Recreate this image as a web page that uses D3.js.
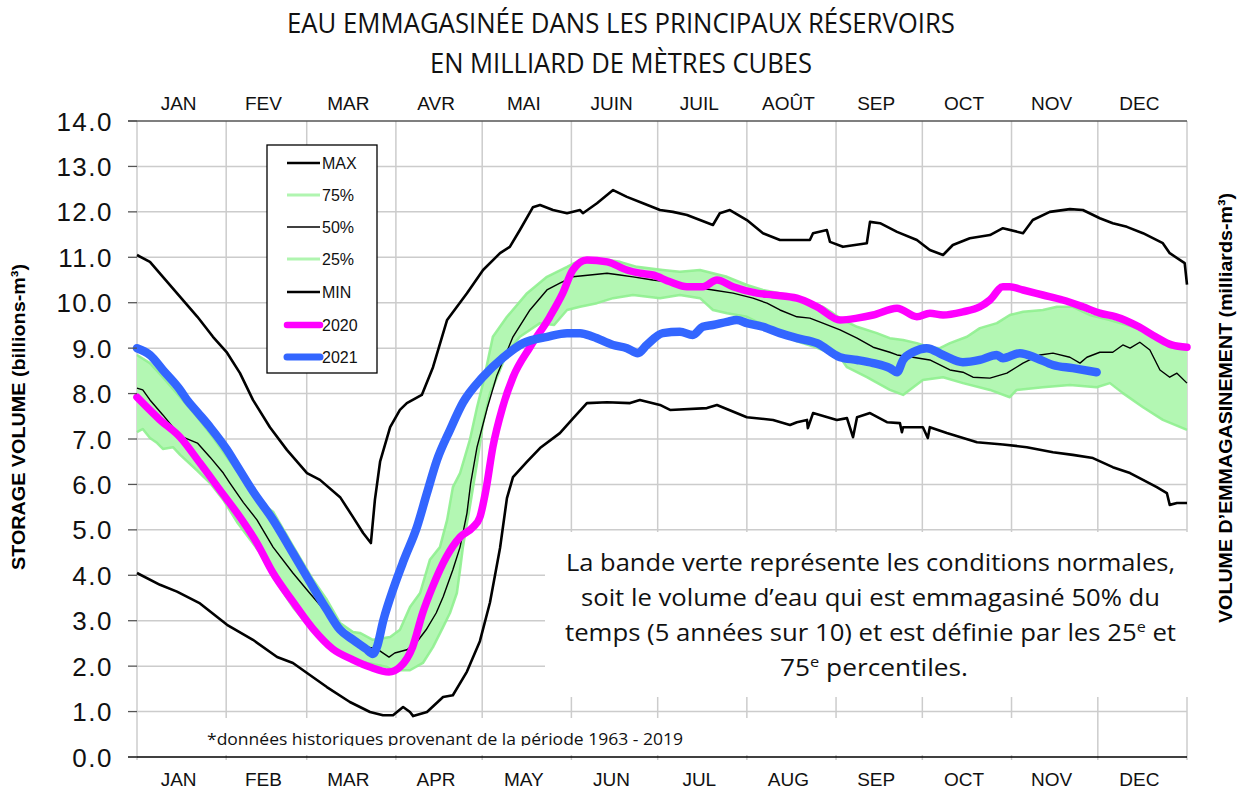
<!DOCTYPE html>
<html><head><meta charset="utf-8">
<script src="https://cdn.jsdelivr.net/npm/d3@7"></script>
<style>body{margin:0;background:#fff;} svg{display:block;}</style>
</head><body><svg id="c" width="1245" height="791"></svg>
<script>
// ---------- DATA ----------
const monthStarts = [0,31,59,90,120,151,181,212,243,273,304,334,365];
const monthsFr = ["JAN","FEV","MAR","AVR","MAI","JUIN","JUIL","AOÛT","SEP","OCT","NOV","DEC"];
const monthsEn = ["JAN","FEB","MAR","APR","MAY","JUN","JUL","AUG","SEP","OCT","NOV","DEC"];
const yTicks = [0,1,2,3,4,5,6,7,8,9,10,11,12,13,14];
const legendLabels = ["MAX","75%","50%","25%","MIN","2020","2021"];

// [day of year, billions m3]
const seriesMax = [[0,11.05],[4.5,10.9],[9,10.57],[15,10.13],[21,9.69],[26.4,9.25],[31.3,8.9],[35.8,8.45],[40.3,7.86],[46.2,7.26],[52.1,6.76],[59.1,6.25],[63.6,6.1],[70.6,5.72],[75.1,5.28],[78.6,4.93],[81.3,4.71],[82.7,5.66],[84.5,6.5],[88,7.26],[91.4,7.64],[93.8,7.79],[99,7.97],[102.9,8.58],[107.8,9.62],[114.7,10.21],[120.3,10.72],[126.2,11.09],[129.6,11.23],[133.1,11.6],[137.6,12.1],[140.1,12.15],[144.6,12.04],[149.5,11.97],[154,12.04],[155,11.97],[159.9,12.19],[165.5,12.48],[170.3,12.33],[175.9,12.19],[181.8,12.04],[186.3,12.0],[191.2,11.93],[195.7,11.82],[200.2,11.71],[202.6,11.97],[206.1,12.04],[212,11.82],[217.6,11.53],[223.5,11.38],[229.4,11.38],[233.9,11.38],[235,11.53],[239.8,11.6],[240.9,11.34],[245.4,11.23],[253.7,11.31],[254.8,11.78],[258.3,11.75],[264.2,11.56],[271.1,11.38],[275.6,11.16],[280.2,11.05],[283.6,11.27],[289.5,11.42],[296.5,11.49],[301,11.64],[308,11.53],[311.4,11.82],[317.3,12.0],[324.3,12.06],[328.8,12.04],[334.7,11.86],[339.2,11.75],[344.1,11.67],[349.7,11.53],[356.6,11.31],[359,11.09],[364.2,10.87],[365,10.4]];

const seriesMin = [[0,4.05],[8,3.79],[13.9,3.64],[21.9,3.38],[31.3,2.91],[40.3,2.58],[48.7,2.2],[54.2,2.07],[59.1,1.85],[66,1.54],[74,1.21],[81,0.99],[85.5,0.92],[89,0.92],[92.5,1.1],[94.9,0.99],[96,0.9],[100.8,0.99],[106.4,1.32],[109.8,1.36],[114.7,1.88],[119.2,2.55],[122.7,3.4],[126.2,4.6],[128.6,5.7],[130.7,6.16],[135.6,6.5],[140.1,6.8],[147,7.13],[151.5,7.45],[156.4,7.79],[163.4,7.81],[171.4,7.79],[174.8,7.86],[181.8,7.75],[185.3,7.64],[198.1,7.68],[201.6,7.75],[212,7.48],[221.1,7.42],[227,7.31],[229.4,7.37],[232.9,7.42],[233.2,7.24],[235,7.57],[243.3,7.42],[246.8,7.46],[248.9,7.04],[250.3,7.48],[254.8,7.57],[260.7,7.37],[265.2,7.35],[265.9,7.15],[266.3,7.26],[273.2,7.26],[274.9,7.02],[275.6,7.26],[281.5,7.13],[292,6.93],[301,6.88],[309.3,6.82],[318.4,6.71],[325.3,6.65],[332.3,6.58],[339.2,6.38],[345.2,6.25],[349.7,6.1],[354.5,5.94],[358,5.81],[359,5.55],[361.5,5.59],[365,5.59]];

const seriesP50 = [[0,8.12],[2,8.08],[4.5,7.86],[9,7.53],[12.5,7.26],[16,7.04],[21,6.91],[25.4,6.6],[30,6.25],[32.3,6.03],[37,5.6],[41.7,5.22],[47.3,4.62],[54.2,4.05],[60,3.61],[66,3.17],[70.6,2.8],[75,2.58],[80,2.42],[83.4,2.38],[87.6,2.2],[89.6,2.29],[93.8,2.36],[97,2.51],[100.5,2.8],[104,3.17],[106.4,3.52],[109.8,4.12],[112.3,4.62],[114.7,5.37],[116,6.03],[118.2,6.82],[121.7,7.67],[125.1,8.4],[130.7,9.25],[136.6,9.84],[142.5,10.28],[147,10.43],[151.5,10.57],[157.5,10.61],[163.4,10.65],[167.9,10.61],[172.4,10.57],[179.3,10.5],[188.7,10.43],[195.7,10.32],[200.2,10.28],[207.2,10.21],[214.1,10.1],[219,9.99],[223.5,9.84],[229.4,9.69],[233.9,9.66],[238.4,9.55],[244.4,9.4],[250.3,9.22],[255.9,9.02],[261.7,8.91],[264.2,8.85],[269.7,8.8],[275.6,8.74],[282.6,8.52],[287.1,8.47],[290.6,8.36],[296.5,8.34],[302.4,8.45],[308,8.67],[313.9,8.85],[318.4,8.89],[324.3,8.8],[327.8,8.67],[330.2,8.8],[334.7,8.91],[339.2,8.91],[342.7,9.07],[345.2,9.0],[348.6,9.13],[352.1,8.96],[355.6,8.52],[359,8.36],[361.5,8.45],[365,8.23]];

const seriesP75 = [[0,8.85],[4.5,8.67],[9,8.36],[15,7.92],[21,7.48],[26.4,7.04],[31.3,6.6],[37,6.1],[42.8,5.6],[47.3,5.4],[54.2,4.65],[61.2,3.9],[66,3.46],[70.6,2.95],[75.1,2.75],[77.5,2.73],[82,2.58],[88,2.64],[91.4,2.8],[94.9,3.3],[98.4,3.61],[101.8,4.34],[105.3,4.62],[107.8,5.22],[109.8,5.94],[112.3,6.25],[115.7,6.98],[118.2,7.7],[120.3,8.23],[123.7,9.25],[128.6,9.69],[135.6,10.21],[142.5,10.57],[149.5,10.79],[154,10.94],[159.9,10.98],[167.9,10.9],[173.8,10.79],[182.8,10.72],[188.7,10.68],[195.7,10.72],[200.2,10.65],[205.1,10.57],[212,10.39],[217.6,10.28],[229.4,10.13],[233.9,10.02],[238.4,9.91],[241.9,9.77],[245.4,9.62],[250.3,9.47],[257.2,9.33],[261.7,9.22],[266.3,9.18],[271.1,9.11],[275.6,9.02],[279.1,9.0],[282.6,9.11],[288.5,9.25],[293,9.44],[298.9,9.55],[303.4,9.73],[308,9.8],[314.9,9.84],[319.8,9.91],[325.3,9.91],[331.2,9.73],[338.2,9.62],[346.2,9.47],[354.5,9.25],[359,9.02],[365,8.96]];

const seriesP25 = [[0,7.15],[2,7.22],[4.5,7.02],[7,6.91],[9,6.78],[12.5,6.82],[15,6.65],[21,6.3],[25.4,6.03],[30,5.66],[35,5.15],[42.8,4.49],[47.3,3.96],[54.2,3.3],[60,2.86],[67,2.42],[73,2.18],[80,2.07],[87,1.98],[89,1.91],[94.9,1.91],[99.4,2.07],[102.9,2.42],[106.4,2.86],[108.8,3.17],[111.2,3.61],[112.3,4.12],[113.3,4.62],[114.7,5.15],[115.7,5.5],[118.2,6.47],[120.3,7.35],[122.7,8.0],[123.7,8.14],[128.6,8.89],[133.1,9.25],[140.1,9.55],[145,9.51],[149.5,9.84],[154,9.91],[159.9,9.99],[165.5,10.1],[172.4,10.17],[181.8,10.1],[188.7,10.17],[195.7,10.1],[200.2,9.84],[205.1,9.77],[212,9.69],[219,9.47],[226,9.25],[229.4,9.15],[236,9.02],[244.4,8.8],[246.8,8.58],[253.7,8.36],[261.7,8.08],[266.3,7.97],[273.2,8.3],[280.2,8.36],[287.1,8.23],[296.5,8.08],[303.4,7.92],[305.8,8.08],[314.9,8.14],[324.3,8.19],[333.6,8.14],[338.2,8.23],[342.7,8.01],[349.7,7.7],[356.6,7.42],[365,7.2]];

const series2020 = [[0,7.92],[8,7.42],[15,7.04],[21.9,6.47],[28.8,5.88],[35.8,5.28],[41.7,4.71],[47.3,4.05],[54.2,3.42],[61.2,2.82],[68,2.38],[75.1,2.14],[81,1.98],[87.6,1.87],[91.4,1.98],[95.8,2.42],[99.3,3.17],[102.7,3.74],[107.5,4.4],[112.3,4.84],[116.8,5.06],[119.2,5.28],[121.3,5.88],[123.7,6.82],[127.1,7.7],[130.7,8.36],[136.6,9.02],[143.5,9.69],[148,10.21],[151.5,10.72],[156.4,10.94],[163.4,10.9],[170.3,10.72],[174.8,10.65],[179.3,10.61],[185.3,10.46],[191.2,10.35],[196.7,10.35],[201.6,10.5],[207.2,10.35],[215.5,10.21],[221.1,10.17],[229.4,10.1],[236.4,9.91],[244.4,9.62],[250.3,9.66],[255.9,9.73],[264.2,9.88],[271.1,9.69],[275.6,9.77],[280.2,9.73],[287.1,9.8],[293,9.91],[296.5,10.06],[301,10.35],[303.4,10.35],[308,10.28],[314.9,10.17],[321.8,10.06],[328.8,9.91],[334.7,9.77],[340.3,9.69],[348.3,9.47],[354.1,9.25],[359.7,9.07],[365,9.02]];

const series2021 = [[0,9.0],[4.5,8.85],[9,8.52],[15,8.08],[17.4,7.86],[21,7.59],[25.4,7.26],[31.3,6.76],[33.4,6.55],[40.3,5.85],[47.3,5.22],[54.2,4.49],[61.2,3.74],[66,3.24],[70.6,2.8],[75.1,2.58],[79.6,2.38],[82,2.27],[83.4,2.42],[85.6,3.0],[89.3,3.74],[92.8,4.34],[97.3,5.06],[100.8,5.81],[104.3,6.54],[108.8,7.2],[113.3,7.8],[120,8.35],[127.4,8.8],[134.3,9.11],[142.6,9.25],[149.5,9.33],[154,9.33],[158.5,9.25],[165.5,9.07],[170.3,9.0],[174.1,8.89],[177.2,9.07],[182.8,9.33],[188.7,9.36],[193.2,9.29],[196.7,9.47],[200.2,9.51],[205.1,9.58],[208.5,9.62],[212,9.55],[217.6,9.47],[223.5,9.33],[229.4,9.22],[236.4,9.11],[244.4,8.8],[250.3,8.74],[255.9,8.67],[261.7,8.56],[264.2,8.47],[266.3,8.74],[269.7,8.91],[274.5,9.0],[280.2,8.85],[287.1,8.69],[293,8.74],[298.9,8.85],[301,8.78],[306.9,8.89],[312.7,8.78],[318.4,8.63],[325.3,8.56],[333.6,8.47]];

// ---------- CHART ----------
const svg = d3.select("#c");
const x = d3.scaleLinear().domain([0,365]).range([137,1187]);
const y = d3.scaleLinear().domain([0,14]).range([757,121]);
const AR = "'Liberation Sans', Arial, sans-serif";
const CAL = "'Open Sans', 'Noto Sans', sans-serif";

svg.append("rect").attr("width",1245).attr("height",791).attr("fill","#fff");

// grid
svg.append("g").selectAll("line").data(yTicks.filter(v=>v>0&&v<14)).join("line")
  .attr("x1",x(0)).attr("x2",x(365)).attr("y1",d=>y(d)).attr("y2",d=>y(d))
  .attr("stroke","#cccccc").attr("stroke-width",1.5);
svg.append("g").selectAll("line").data(monthStarts).join("line")
  .attr("x1",d=>x(d)).attr("x2",d=>x(d)).attr("y1",y(14)).attr("y2",y(0)+3)
  .attr("stroke","#cccccc").attr("stroke-width",1.5);

// white text boxes covering the grid
svg.append("rect").attr("x",545).attr("y",532).attr("width",x(365)-545+1).attr("height",165).attr("fill","#fff");
svg.append("rect").attr("x",140).attr("y",718).attr("width",920).attr("height",37).attr("fill","#fff");

const line = d3.line().x(d=>x(d[0])).y(d=>y(d[1]));
const smooth = d3.line().x(d=>x(d[0])).y(d=>y(d[1])).curve(d3.curveMonotoneX);

// band
const bandPts = seriesP75.concat(seriesP25.slice().reverse());
svg.append("path").attr("d", line(bandPts)+"Z").attr("fill","#b3f7b3").attr("stroke","none");
[seriesP75, seriesP25].forEach(s=>{
  svg.append("path").attr("d", line(s)).attr("fill","none").attr("stroke","#8ff08f")
    .attr("stroke-width",2.5).attr("stroke-linejoin","round").attr("opacity",0.9);
});

// envelope lines
[seriesMax, seriesMin].forEach(s=>{
  svg.append("path").attr("d", line(s)).attr("fill","none").attr("stroke","#000")
    .attr("stroke-width",2.6).attr("stroke-linejoin","round");
});
svg.append("path").attr("d", line(seriesP50)).attr("fill","none").attr("stroke","#000")
  .attr("stroke-width",1.4).attr("stroke-linejoin","round");

svg.append("path").attr("d", smooth(series2020)).attr("fill","none").attr("stroke","#ff00ff")
  .attr("stroke-width",7.5).attr("stroke-linejoin","round").attr("stroke-linecap","round");
svg.append("path").attr("d", smooth(series2021)).attr("fill","none").attr("stroke","#3366ff")
  .attr("stroke-width",8.5).attr("stroke-linejoin","round").attr("stroke-linecap","round");

// axes frame
svg.append("line").attr("x1",128).attr("x2",x(365)).attr("y1",y(14)).attr("y2",y(14)).attr("stroke","#555").attr("stroke-width",1.5);
svg.append("line").attr("x1",128).attr("x2",x(365)).attr("y1",y(0)).attr("y2",y(0)).attr("stroke","#000").attr("stroke-width",1.6);
svg.append("g").selectAll("line").data(yTicks).join("line")
  .attr("x1",128).attr("x2",x(0)).attr("y1",d=>y(d)).attr("y2",d=>y(d)).attr("stroke","#555").attr("stroke-width",1.3);

// y tick labels
svg.append("g").selectAll("text").data(yTicks).join("text")
  .attr("x",113).attr("y",d=>y(d)+9.5).attr("text-anchor","end")
  .attr("font-family",AR).attr("font-size",26).attr("letter-spacing",1.5).attr("fill","#111")
  .text(d=>d.toFixed(1));

// month labels
const mid = i => (x(monthStarts[i])+x(monthStarts[i+1]))/2 - 3;
svg.append("g").selectAll("text").data(monthsFr).join("text")
  .attr("x",(d,i)=>mid(i)).attr("y",110).attr("text-anchor","middle")
  .attr("font-family",AR).attr("font-size",19).attr("fill","#111").text(d=>d);
svg.append("g").selectAll("text").data(monthsEn).join("text")
  .attr("x",(d,i)=>mid(i)).attr("y",786).attr("text-anchor","middle")
  .attr("font-family",AR).attr("font-size",19).attr("fill","#111").text(d=>d);

// title
function fitText(txt, cx, by, len, size, family, weight){
  return svg.append("text").attr("x",cx).attr("y",by).attr("text-anchor","middle")
    .attr("font-family",family).attr("font-size",size).attr("font-weight",weight||"normal")
    .attr("textLength",len).attr("lengthAdjust","spacingAndGlyphs").attr("fill","#111").text(txt);
}
fitText("EAU EMMAGASINÉE DANS LES PRINCIPAUX RÉSERVOIRS", 621, 33, 668, 27, CAL);
fitText("EN MILLIARD DE MÈTRES CUBES", 621, 73, 382, 27, CAL);

// axis titles
svg.append("text").attr("transform","translate(25,417) rotate(-90)").attr("text-anchor","middle")
  .attr("font-family",AR).attr("font-weight","bold").attr("font-size",19)
  .attr("textLength",306).attr("lengthAdjust","spacingAndGlyphs").attr("fill","#000")
  .text("STORAGE VOLUME (billions-m³)");
svg.append("text").attr("transform","translate(1232,408) rotate(-90)").attr("text-anchor","middle")
  .attr("font-family",AR).attr("font-weight","bold").attr("font-size",19)
  .attr("textLength",430).attr("lengthAdjust","spacingAndGlyphs").attr("fill","#000")
  .text("VOLUME D’EMMAGASINEMENT (milliards-m³)");

// annotation
const ann = svg.append("g").attr("font-family",CAL).attr("font-size",24).attr("fill","#111");
function annLine(parts, x0, len, by){
  const t = ann.append("text").attr("x",x0).attr("y",by).attr("textLength",len).attr("lengthAdjust","spacingAndGlyphs");
  parts.forEach(p=>{
    const s = t.append("tspan").text(p.t);
    if(p.sup) s.attr("font-size",15).attr("dy",-9);
    if(p.down) s.attr("dy",9);
  });
}
annLine([{t:"La bande verte représente les conditions normales,"}], 566, 609, 571);
annLine([{t:"soit le volume d’eau qui est emmagasiné 50% du"}], 581, 579, 606);
annLine([{t:"temps (5 années sur 10) et est définie par les 25"},{t:"e",sup:true},{t:" et",down:true}], 565, 611, 641);
annLine([{t:"75"},{t:"e",sup:true},{t:" percentiles.",down:true}], 780, 188, 676);

// footnote (clipped like the original text box)
svg.append("clipPath").attr("id","fn").append("rect").attr("x",140).attr("y",718).attr("width",920).attr("height",28);
svg.append("text").attr("clip-path","url(#fn)").attr("x",207).attr("y",745)
  .attr("font-family",CAL).attr("font-size",16).attr("fill","#111")
  .attr("textLength",476).attr("lengthAdjust","spacingAndGlyphs")
  .text("*données historiques provenant de la période 1963 - 2019");

// legend
const lg = svg.append("g");
lg.append("rect").attr("x",267).attr("y",145).attr("width",110).attr("height",228)
  .attr("fill","#fff").attr("stroke","#000").attr("stroke-width",1.3);
const legStroke = ["#000","#b0f5b0","#000","#b0f5b0","#000","#ff00ff","#3366ff"];
const legWidth = [2.6,3,1.5,3,2.6,6.5,7];
const legY = [163,195,227,259,292,325,357];
legendLabels.forEach((lab,i)=>{
  lg.append("line").attr("x1",287).attr("x2",320).attr("y1",legY[i]).attr("y2",legY[i])
    .attr("stroke",legStroke[i]).attr("stroke-width",legWidth[i]).attr("stroke-linecap", i>=5?"round":"butt");
  lg.append("text").attr("x",322).attr("y",legY[i]+6).attr("font-family",AR).attr("font-size",16)
    .attr("fill","#111").text(lab);
});
</script></body></html>
